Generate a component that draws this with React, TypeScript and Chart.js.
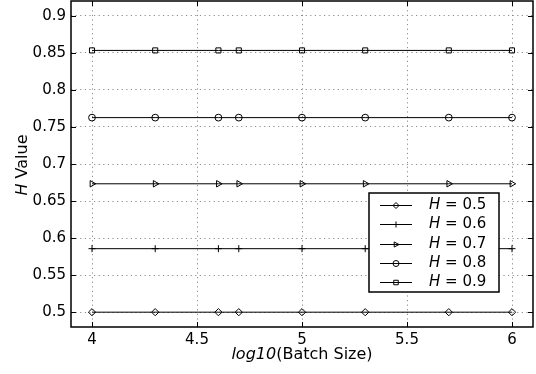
import React, { useEffect, useRef } from 'react';
import { Chart, registerables } from 'chart.js';

Chart.register(...registerables);

// ---- data ----
const logBatchSize = [4, 4.301, 4.602, 4.699, 5, 5.301, 5.699, 6];
const seriesNames = ['0.5', '0.6', '0.7', '0.8', '0.9'];
const h05 = [0.5, 0.5, 0.5, 0.5, 0.5, 0.5, 0.5, 0.5];
const h06 = [0.5857, 0.5857, 0.5857, 0.5857, 0.5857, 0.5857, 0.5857, 0.5857];
const h07 = [0.6733, 0.6733, 0.6733, 0.6733, 0.6733, 0.6733, 0.6733, 0.6733];
const h08 = [0.7626, 0.7626, 0.7626, 0.7626, 0.7626, 0.7626, 0.7626, 0.7626];
const h09 = [0.8533, 0.8533, 0.8533, 0.8533, 0.8533, 0.8533, 0.8533, 0.8533];
const xTicks = [4, 4.5, 5, 5.5, 6];
const yTicks = [0.5, 0.55, 0.6, 0.65, 0.7, 0.75, 0.8, 0.85, 0.9];
const xTickLabels = ['4', '4.5', '5', '5.5', '6'];
const yTickLabels = ['0.5', '0.55', '0.6', '0.65', '0.7', '0.75', '0.8', '0.85', '0.9'];

const FONT = '"DejaVu Sans", "Liberation Sans", sans-serif';
const markerStyles = ['diamond', 'plus', 'triRight', 'circle', 'square'];

function drawMarker(ctx: CanvasRenderingContext2D, kind: string, x: number, y: number, r: number) {
  ctx.beginPath();
  if (kind === 'diamond') {
    ctx.moveTo(x, y - r); ctx.lineTo(x + r, y); ctx.lineTo(x, y + r); ctx.lineTo(x - r, y); ctx.closePath();
  } else if (kind === 'plus') {
    ctx.moveTo(x - r, y); ctx.lineTo(x + r, y); ctx.moveTo(x, y - r); ctx.lineTo(x, y + r);
  } else if (kind === 'triRight') {
    ctx.moveTo(x + r, y); ctx.lineTo(x - r * 0.6, y - r * 0.85); ctx.lineTo(x - r * 0.6, y + r * 0.85); ctx.closePath();
  } else if (kind === 'circle') {
    ctx.arc(x, y, r, 0, Math.PI * 2);
  } else {
    const s = r * 0.75;
    ctx.rect(x - s, y - s, 2 * s, 2 * s);
  }
  ctx.stroke();
}

const decorPlugin = {
  id: 'decor',
  afterDraw(chart: any) {
    const { ctx, chartArea: a, scales } = chart;
    const xs = scales.x, ys = scales.y;
    ctx.save();
    // frame
    ctx.strokeStyle = '#000';
    ctx.lineWidth = 1.5;
    ctx.strokeRect(a.left, a.top, a.right - a.left, a.bottom - a.top);
    // inward ticks
    ctx.lineWidth = 1;
    const tl = 5;
    ctx.beginPath();
    xTicks.forEach((v) => {
      const px = Math.round(xs.getPixelForValue(v)) + 0.5;
      ctx.moveTo(px, a.bottom); ctx.lineTo(px, a.bottom - tl);
      ctx.moveTo(px, a.top); ctx.lineTo(px, a.top + tl);
    });
    yTicks.forEach((v) => {
      const py = Math.round(ys.getPixelForValue(v)) + 0.5;
      ctx.moveTo(a.left, py); ctx.lineTo(a.left + tl, py);
      ctx.moveTo(a.right, py); ctx.lineTo(a.right - tl, py);
    });
    ctx.stroke();

    // x title: italic "log10" + "(Batch Size)"
    ctx.fillStyle = '#000';
    ctx.textBaseline = 'middle';
    ctx.textAlign = 'left';
    const itF = `italic 16px ${FONT}`;
    const nF = `16px ${FONT}`;
    ctx.font = itF;
    const w1 = ctx.measureText('log10').width;
    ctx.font = nF;
    const w2 = ctx.measureText('(Batch Size)').width;
    const cx = (a.left + a.right) / 2;
    let sx = cx - (w1 + w2) / 2;
    ctx.font = itF; ctx.fillText('log10', sx, 355);
    ctx.font = nF; ctx.fillText('(Batch Size)', sx + w1, 355);

    // y title: italic "H" + " Value", rotated
    ctx.save();
    ctx.translate(23, 165);
    ctx.rotate(-Math.PI / 2);
    ctx.font = itF;
    const h1 = ctx.measureText('H').width;
    ctx.font = nF;
    const h2 = ctx.measureText(' Value').width;
    sx = -(h1 + h2) / 2;
    ctx.font = itF; ctx.fillText('H', sx, 0);
    ctx.font = nF; ctx.fillText(' Value', sx + h1, 0);
    ctx.restore();

    // legend
    const lx = 369, ly = 193, lw = 130, lh = 99;
    ctx.fillStyle = '#fff';
    ctx.fillRect(lx, ly, lw, lh);
    ctx.strokeStyle = '#000';
    ctx.lineWidth = 1.5;
    ctx.strokeRect(lx, ly, lw, lh);
    const rows = [204.7, 224.2, 243.7, 263, 282.3];
    ctx.lineWidth = 1;
    seriesNames.forEach((name, i) => {
      const yy = Math.round(rows[i]) + 0.5;
      ctx.strokeStyle = '#000';
      ctx.beginPath(); ctx.moveTo(380, yy); ctx.lineTo(412, yy); ctx.stroke();
      drawMarker(ctx, markerStyles[i], 396, yy, 3);
      ctx.fillStyle = '#000';
      ctx.textBaseline = 'middle';
      ctx.font = `italic 15px ${FONT}`;
      const hw = ctx.measureText('H').width;
      ctx.fillText('H', 429, yy);
      ctx.font = `15px ${FONT}`;
      ctx.fillText(' = ' + name, 429 + hw, yy);
    });
    ctx.restore();
  },
};

export default function App() {
  const ref = useRef<HTMLCanvasElement>(null);
  useEffect(() => {
    const series = [h05, h06, h07, h08, h09];
    const pointStyles: any[] = ['rectRot', 'cross', 'triangle', 'circle', 'rect'];
    const radii = [3.6, 3.5, 3.7, 3.4, 3.6];
    const rotations = [0, 0, 90, 0, 0];
    const datasets = series.map((vals, i) => ({
      label: 'H = ' + seriesNames[i],
      data: vals.map((v, j) => ({ x: logBatchSize[j], y: v })),
      borderColor: '#000',
      borderWidth: 1,
      pointStyle: pointStyles[i],
      pointRadius: radii[i],
      pointRotation: rotations[i],
      pointBorderColor: '#000',
      pointBorderWidth: 1,
      pointBackgroundColor: 'rgba(0,0,0,0)',
      tension: 0,
      fill: false,
    }));
    const chart = new Chart(ref.current!, {
      type: 'line',
      data: { datasets },
      plugins: [decorPlugin],
      options: {
        animation: false,
        responsive: false,
        devicePixelRatio: 1,
        layout: { autoPadding: false, padding: { top: 1, right: 3, left: 0, bottom: 0 } },
        plugins: { legend: { display: false }, tooltip: { enabled: false } },
        scales: {
          x: {
            type: 'linear',
            min: 3.9,
            max: 6.1,
            afterBuildTicks: (s: any) => { s.ticks = xTicks.map((v) => ({ value: v })); },
            afterFit: (s: any) => { s.height = 47; s.paddingLeft = 0; s.paddingRight = 0; },
            ticks: {
              padding: 4,
              color: '#000',
              font: { family: FONT, size: 15 },
              callback: (_v: any, i: number) => xTickLabels[i],
            },
            grid: { color: '#8c8c8c', lineWidth: 1, drawTicks: false },
            border: { display: false, dash: [1.2, 3.4] },
          },
          y: {
            type: 'linear',
            min: 0.48,
            max: 0.92,
            afterBuildTicks: (s: any) => { s.ticks = yTicks.map((v) => ({ value: v })); },
            afterFit: (s: any) => { s.width = 71; s.paddingTop = 0; s.paddingBottom = 0; },
            ticks: {
              padding: 5,
              color: '#000',
              font: { family: FONT, size: 15 },
              callback: (_v: any, i: number) => yTickLabels[i],
            },
            grid: { color: '#8c8c8c', lineWidth: 1, drawTicks: false },
            border: { display: false, dash: [1.2, 3.4] },
          },
        },
      },
    });
    return () => chart.destroy();
  }, []);
  return (
    <div style={{ position: 'absolute', left: 0, top: 0, width: 536, height: 374, background: '#fff' }}>
      <canvas ref={ref} width={536} height={374} style={{ display: 'block', width: 536, height: 374 }} />
    </div>
  );
}
